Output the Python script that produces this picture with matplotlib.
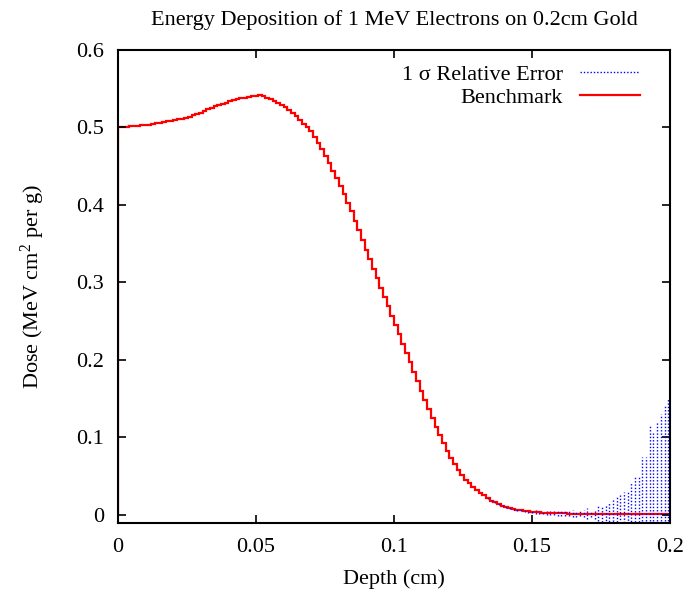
import numpy as np
import matplotlib
matplotlib.use("Agg")
import matplotlib.pyplot as plt
from matplotlib.ticker import FormatStrFormatter

plt.rcParams.update({
    "font.family": "Liberation Serif",
    "mathtext.fontset": "custom",
    "mathtext.rm": "Liberation Serif",
    "mathtext.it": "Liberation Serif:italic",
    "font.size": 16,
})

# depth range in cm, 150 equal bins
DEPTH_MAX = 0.2

# benchmark dose per bin (MeV cm^2 per g)
DOSE = [
    0.5002, 0.5006, 0.5010, 0.5014, 0.5018, 0.5022, 0.5026, 0.5030, 0.5038, 0.5046,
    0.5054, 0.5062, 0.5070, 0.5078, 0.5086, 0.5095, 0.5104, 0.5114, 0.5123, 0.5138,
    0.5155, 0.5173, 0.5190, 0.5211, 0.5233, 0.5254, 0.5274, 0.5290, 0.5306, 0.5322,
    0.5337, 0.5350, 0.5363, 0.5377, 0.5386, 0.5394, 0.5402, 0.5410, 0.5413, 0.5405,
    0.5385, 0.5365, 0.5341, 0.5316, 0.5292, 0.5261, 0.5224, 0.5187, 0.5149, 0.5102,
    0.5051, 0.5000, 0.4950, 0.4873, 0.4795, 0.4718, 0.4636, 0.4540, 0.4444, 0.4348,
    0.4245, 0.4136, 0.4027, 0.3917, 0.3796, 0.3671, 0.3545, 0.3420, 0.3297, 0.3175,
    0.3052, 0.2930, 0.2810, 0.2690, 0.2570, 0.2450, 0.2330, 0.2210, 0.2090, 0.1968,
    0.1845, 0.1723, 0.1600, 0.1483, 0.1365, 0.1248, 0.1134, 0.1030, 0.0926, 0.0822,
    0.0733, 0.0658, 0.0583, 0.0509, 0.0456, 0.0411, 0.0365, 0.0320, 0.0285, 0.0251,
    0.0216, 0.0185, 0.0164, 0.0142, 0.0121, 0.0104, 0.0092, 0.0080, 0.0068, 0.0059,
    0.0053, 0.0047, 0.0042, 0.0038, 0.0034, 0.0030, 0.0027, 0.0025, 0.0023, 0.0021,
    0.0020, 0.0019, 0.0018, 0.0018, 0.0017, 0.0017, 0.0016, 0.0016, 0.0015, 0.0015,
    0.0015, 0.0014, 0.0014, 0.0014, 0.0013, 0.0013, 0.0013, 0.0013, 0.0013, 0.0012,
    0.0012, 0.0012, 0.0012, 0.0012, 0.0012, 0.0012, 0.0012, 0.0012, 0.0012, 0.0012,
]

# 1 sigma error, only visible in the tail: bins from ERR_FIRST_BIN to the end
ERR_FIRST_BIN = 100
ERR = [
    0.0006, 0.0007, 0.0008, 0.0008, 0.0009, 0.0010, 0.0011, 0.0012, 0.0013, 0.0014,
    0.0015, 0.0016, 0.0018, 0.0020, 0.0022, 0.0024, 0.0026, 0.0028, 0.0030, 0.0032,
    0.0030, 0.0036, 0.0034, 0.0040, 0.0038, 0.0035, 0.0045, 0.0070, 0.0040, 0.0064,
    0.0094, 0.0107, 0.0127, 0.0150, 0.0180, 0.0230, 0.0240, 0.0280, 0.0300, 0.0400,
    0.0490, 0.0490, 0.0740, 0.0740, 0.1140, 0.1050, 0.1200, 0.1290, 0.1400, 0.1500,
]

XTICKS = [0, 0.05, 0.1, 0.15, 0.2]
YTICKS = [0, 0.1, 0.2, 0.3, 0.4, 0.5, 0.6]

dose = np.array(DOSE)
err = np.array(ERR)
edges = np.linspace(0, DEPTH_MAX, len(DOSE) + 1)
centers = 0.5 * (edges[:-1] + edges[1:])
tail = dose[ERR_FIRST_BIN:]

fig = plt.figure(figsize=(6.87, 5.90), dpi=100)
ax = fig.add_axes([0.1718, 0.1141, 0.8035, 0.8012])

ax.vlines(centers[ERR_FIRST_BIN:], tail - err, tail + err, colors="#0000ff",
          linestyles=(0, (1, 1.4)), linewidth=1.0, label="1 σ Relative Error")
ax.stairs(dose, edges, color="#ff0000", linewidth=1.6, label="Benchmark")

ax.set_xlim(0, DEPTH_MAX)
ax.set_ylim(-0.01, 0.6)
ax.set_xticks(XTICKS)
ax.set_yticks(YTICKS)
ax.xaxis.set_major_formatter(FormatStrFormatter("%g"))
ax.yaxis.set_major_formatter(FormatStrFormatter("%g"))
ax.tick_params(direction="in", length=6, width=1.2, top=True, right=True,
               labelsize=16)
ax.tick_params(axis="x", pad=11)
ax.tick_params(axis="y", pad=10)
for s in ax.spines.values():
    s.set_linewidth(1.5)

ax.set_xlabel("Depth (cm)", labelpad=9)
ax.set_ylabel("Dose (MeV cm$^{2}$ per g)", labelpad=21)
ax.set_title("Energy Deposition of 1 MeV Electrons on 0.2cm Gold", pad=18,
             fontsize=16)

ax.legend(loc="upper right", bbox_to_anchor=(651 / 687, 1 - 53 / 590),
          bbox_transform=fig.transFigure, frameon=False, markerfirst=False,
          handlelength=2.7, handletextpad=0.75, labelspacing=0.12, borderpad=0,
          fontsize=16)

fig.savefig("out.png", dpi=100)
